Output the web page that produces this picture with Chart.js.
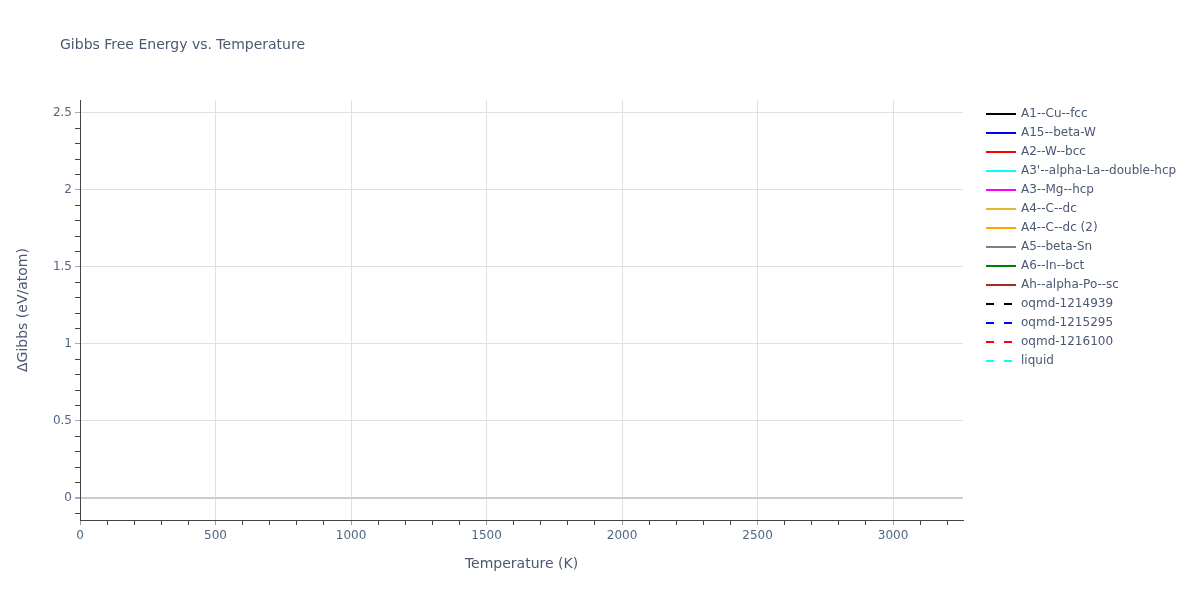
<!DOCTYPE html>
<html>
<head>
<meta charset="utf-8">
<script src="https://cdn.jsdelivr.net/npm/chart.js@4.4.1/dist/chart.umd.min.js"></script>
<style>
  html, body { margin: 0; padding: 0; background: #fff; }
  #wrap { width: 1200px; height: 600px; position: relative; }
</style>
</head>
<body>
<div id="wrap"><canvas id="gibbsChart"></canvas></div>
<script>
// series names, colours and dash flags, as in the legend
const seriesNames = [
  "A1--Cu--fcc", "A15--beta-W", "A2--W--bcc", "A3'--alpha-La--double-hcp",
  "A3--Mg--hcp", "A4--C--dc", "A4--C--dc (2)", "A5--beta-Sn", "A6--In--bct",
  "Ah--alpha-Po--sc", "oqmd-1214939", "oqmd-1215295", "oqmd-1216100", "liquid"
];
const seriesColors = [
  "#000000", "#0000ff", "#ff0000", "#00ffff", "#ff00ff", "#e5b731", "#ffa500",
  "#808080", "#008000", "#a52a2a", "#000000", "#0000ff", "#ff0000", "#00ffff"
];
const seriesDashed = [false, false, false, false, false, false, false, false, false, false, true, true, true, true];
// no curve points are visible in the picture, so every series is empty
const seriesTemps = [[], [], [], [], [], [], [], [], [], [], [], [], [], []];
const seriesGibbs = [[], [], [], [], [], [], [], [], [], [], [], [], [], []];

const xMajorTicks = [0, 500, 1000, 1500, 2000, 2500, 3000];
const yMajorTicks = [0, 0.5, 1, 1.5, 2, 2.5];
const xMinorStep = 100;
const yMinorStep = 0.1;

const textColor = "#4b5872";
const tickTextColor = "#506784";
const font = '"DejaVu Sans", Verdana, sans-serif';

const datasets = seriesNames.map((name, i) => ({
  label: name,
  data: seriesTemps[i].map((t, j) => ({ x: t, y: seriesGibbs[i][j] })),
  borderColor: seriesColors[i],
  backgroundColor: seriesColors[i],
  borderWidth: 2,
  borderDash: seriesDashed[i] ? [8, 10] : [],
  pointRadius: 0,
  fill: false
}));

function isMajor(list, v) {
  return list.some(m => Math.abs(m - v) < 1e-6);
}

// minor ticks inside the axis range, on the step grid
function stepTicks(scale, step) {
  const out = [];
  const first = Math.ceil(scale.min / step - 1e-9);
  const last = Math.floor(scale.max / step + 1e-9);
  for (let k = first; k <= last; k++) out.push({ value: Math.round(k * step * 1000) / 1000 });
  scale.ticks = out;
}

const extras = {
  id: "extras",
  afterDraw(chart) {
    const ctx = chart.ctx;
    ctx.save();
    ctx.fillStyle = textColor;
    ctx.font = "14px " + font;
    ctx.textBaseline = "middle";
    ctx.textAlign = "left";
    ctx.fillText("Gibbs Free Energy vs. Temperature", 60, 45);

    ctx.font = "12px " + font;
    chart.data.datasets.forEach((ds, i) => {
      const y = 114 + i * 19;
      ctx.strokeStyle = ds.borderColor;
      ctx.lineWidth = 2;
      ctx.setLineDash(ds.borderDash);
      ctx.beginPath();
      ctx.moveTo(986, y);
      ctx.lineTo(1016, y);
      ctx.stroke();
      ctx.setLineDash([]);
      ctx.fillStyle = textColor;
      ctx.fillText(ds.label, 1021, y);
    });
    ctx.restore();
  }
};

new Chart(document.getElementById("gibbsChart"), {
  type: "line",
  data: { datasets },
  options: {
    responsive: true,
    maintainAspectRatio: false,
    animation: false,
    layout: { padding: { top: 100, right: 237, left: 0, bottom: 0 } },
    plugins: { legend: { display: false }, tooltip: { enabled: false } },
    scales: {
      x: {
        type: "linear",
        min: 0,
        max: 3258,
        afterBuildTicks: s => stepTicks(s, xMinorStep),
        afterFit(scale) { scale.height = 80; },
        border: { color: "#444", width: 1 },
        grid: {
          color: c => (c.tick && isMajor(xMajorTicks, c.tick.value) && c.tick.value !== 0) ? "#e0e0e0" : "rgba(0,0,0,0)",
          tickColor: c => (c.tick && isMajor(xMajorTicks, c.tick.value)) ? "#999999" : "#444444",
          tickLength: 5,
          lineWidth: 1
        },
        ticks: {
          autoSkip: false,
          maxRotation: 0,
          padding: 4,
          color: tickTextColor,
          font: { family: font, size: 12 },
          callback: v => isMajor(xMajorTicks, v) ? String(v) : ""
        },
        title: {
          display: true,
          text: "Temperature (K)",
          color: textColor,
          font: { family: font, size: 14 },
          padding: { top: 0, bottom: 27 }
        }
      },
      y: {
        type: "linear",
        min: -0.143,
        max: 2.584,
        afterBuildTicks: s => stepTicks(s, yMinorStep),
        afterFit(scale) { scale.width = 80; },
        border: { color: "#444", width: 1 },
        grid: {
          color: c => {
            if (!c.tick) return "rgba(0,0,0,0)";
            if (Math.abs(c.tick.value) < 1e-6) return "#cccccc";
            return isMajor(yMajorTicks, c.tick.value) ? "#e0e0e0" : "rgba(0,0,0,0)";
          },
          lineWidth: c => (c.tick && Math.abs(c.tick.value) < 1e-6) ? 2 : 1,
          tickColor: c => (c.tick && isMajor(yMajorTicks, c.tick.value)) ? "#aaaaaa" : "#444444",
          tickLength: 5
        },
        ticks: {
          autoSkip: false,
          padding: 3,
          color: tickTextColor,
          font: { family: font, size: 12 },
          callback: v => isMajor(yMajorTicks, v) ? String(Math.round(v * 10) / 10) : ""
        },
        title: {
          display: true,
          text: "ΔGibbs (eV/atom)",
          color: textColor,
          font: { family: font, size: 14 },
          padding: { top: 15, bottom: 0 }
        }
      }
    }
  },
  plugins: [extras]
});
</script>
</body>
</html>
